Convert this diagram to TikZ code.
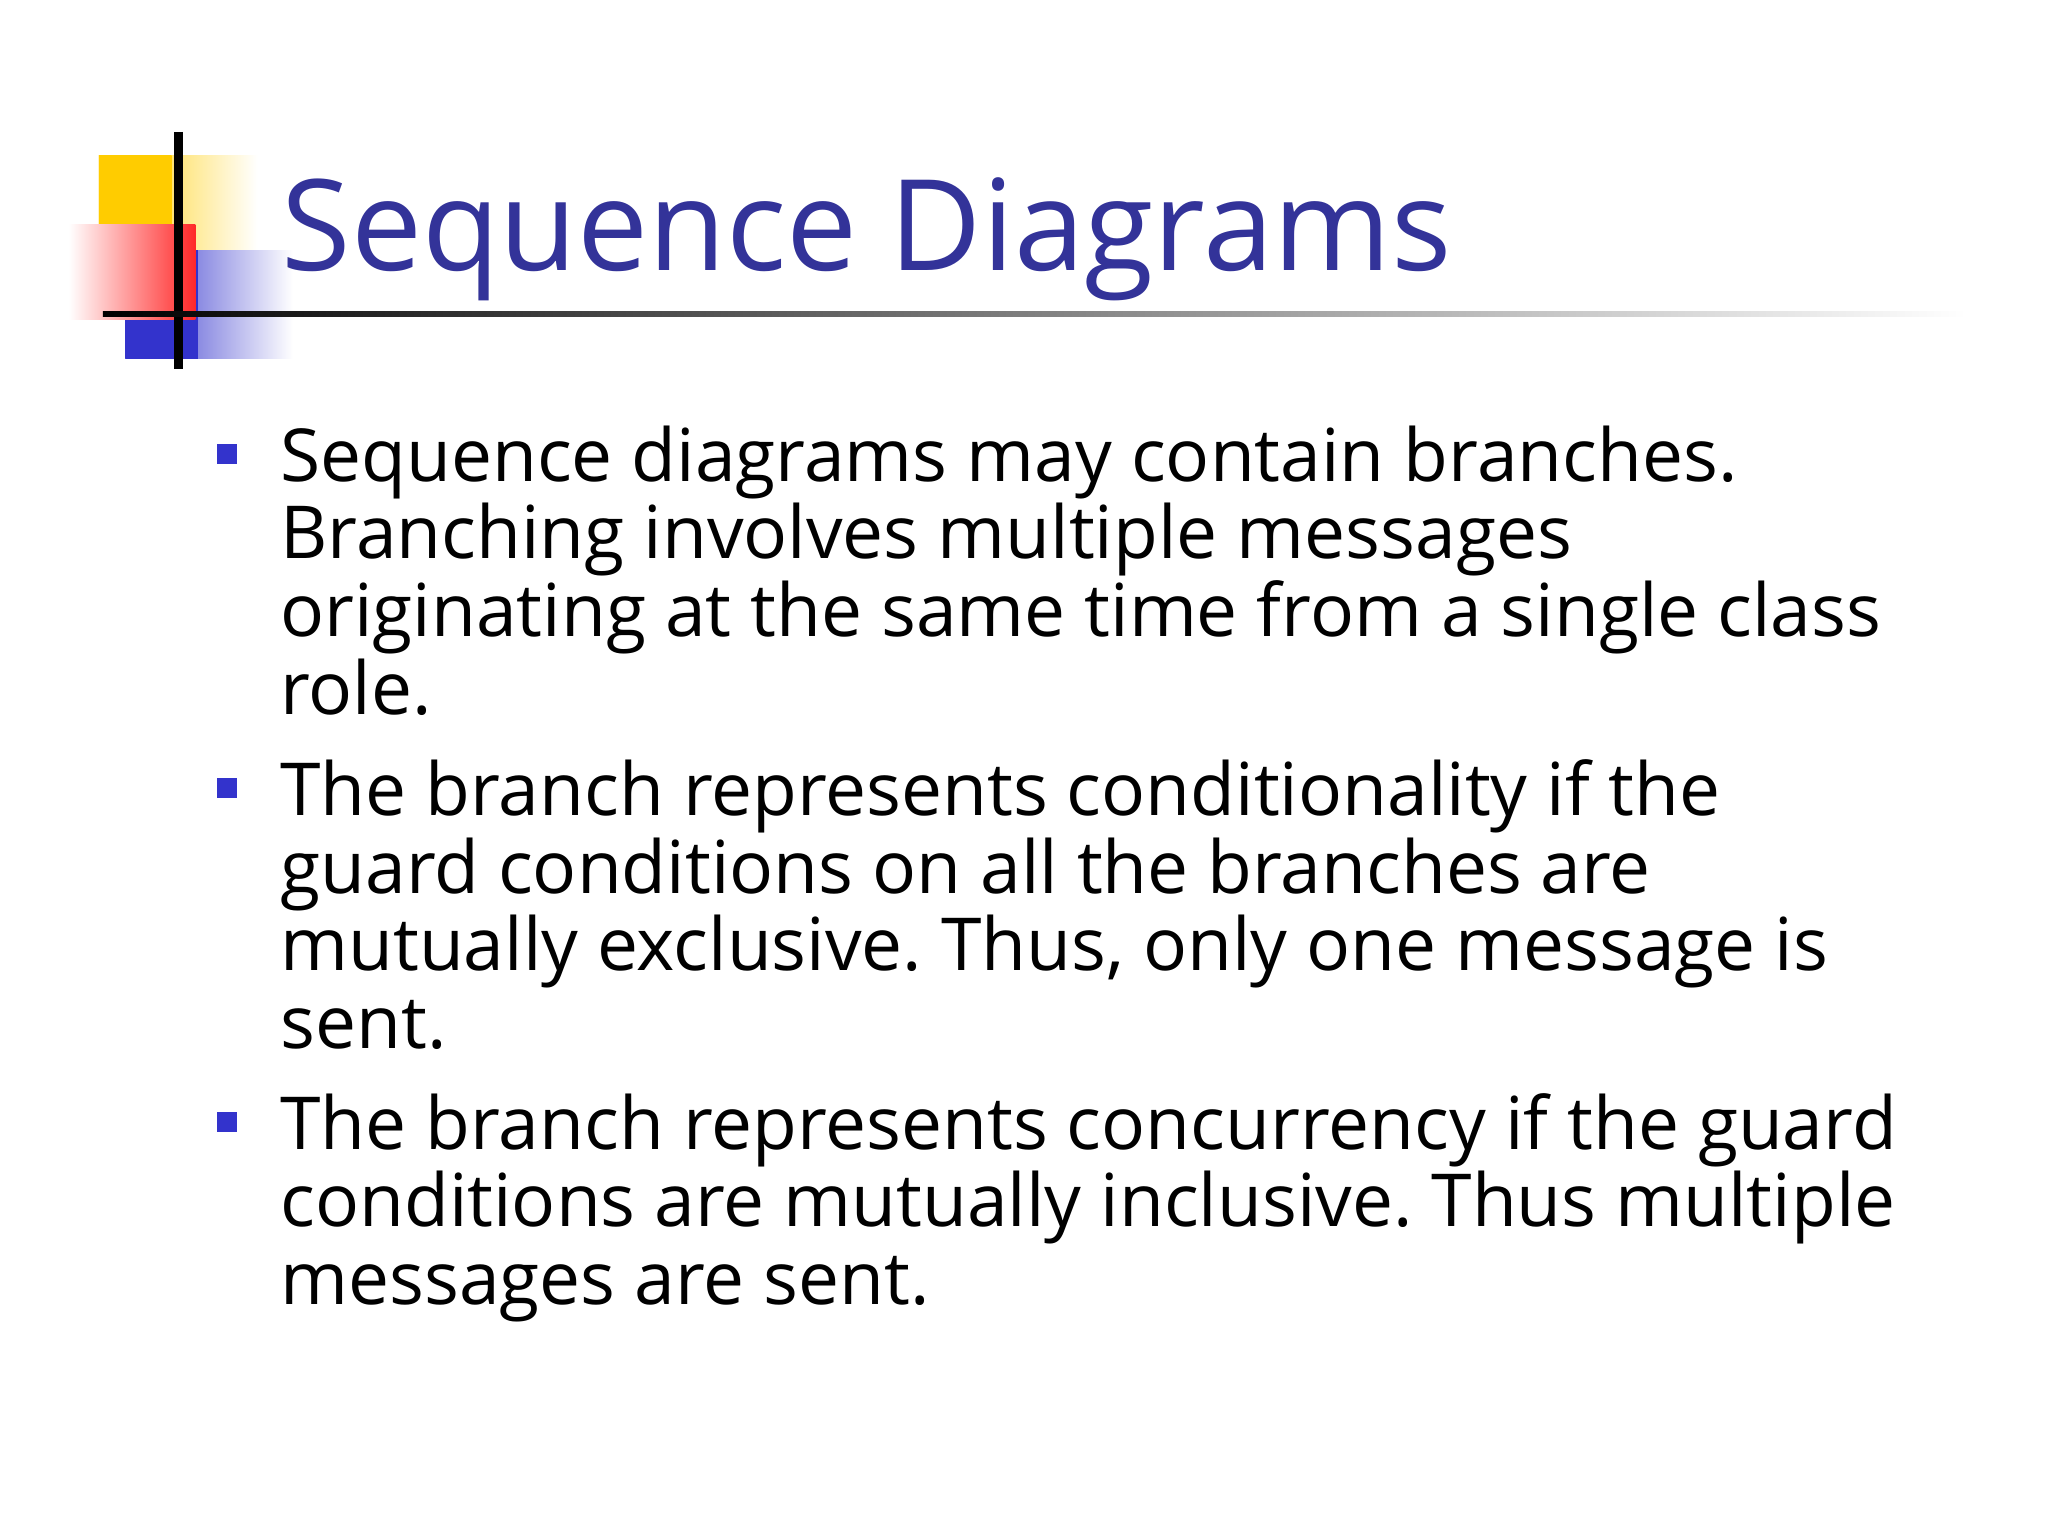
\documentclass[tikz,border=0pt]{standalone}
\usepackage{fontspec}
\setmainfont{Open Sans}
\frenchspacing
\definecolor{ttl}{RGB}{51,51,153}
\definecolor{blu}{RGB}{51,51,204}
\definecolor{yel}{RGB}{255,204,0}
\definecolor{rd}{RGB}{255,40,40}
\begin{document}
\begin{tikzpicture}[x=0.0132cm,y=-0.0132cm,
  bullet/.style={fill=blu,minimum size=0.2cm,inner sep=0pt},
  body/.style={anchor=north west,align=left,inner sep=0pt,font=\fontsize{20.8}{22.1}\selectfont}]
\useasboundingbox (0,0) rectangle (1552,1164);
\fill[white] (0,0) rectangle (1552,1164);
% logo
\shade[left color=yel,right color=white] (75,118) rectangle (195,238);
\shade[left color=yel,right color=yel] (75,118) rectangle (130,238);
\shade[left color=blu,right color=white] (95,190) rectangle (222,272);
\shade[left color=blu,right color=blu] (95,190) rectangle (150,272);
\shade[left color=white,right color=rd] (52,170) rectangle (148,242);
\draw[line width=2.5pt] (135,100) -- (135,280);
\shade[left color=black,right color=white] (78,236) rectangle (1490,240);
\node[anchor=base west,inner sep=0pt,text=ttl,font=\fontsize{36}{40}\selectfont] (title) at (213,205) {Sequence Diagrams};
% bullets
\node[bullet] (b1) at (172,344) {};
\node[bullet] (b2) at (172,597) {};
\node[bullet] (b3) at (172,850) {};
\node[body] (t1) at (212,322) {Sequence diagrams may contain branches.\\Branching involves multiple messages\\originating at the same time from a single class\\role.};
\node[body] (t2) at (212,575) {The branch represents conditionality if the\\guard conditions on all the branches are\\mutually exclusive. Thus, only one message is\\sent.};
\node[body] (t3) at (212,828) {The branch represents concurrency if the guard\\conditions are mutually inclusive. Thus multiple\\messages are sent.};
\end{tikzpicture}
\end{document}
